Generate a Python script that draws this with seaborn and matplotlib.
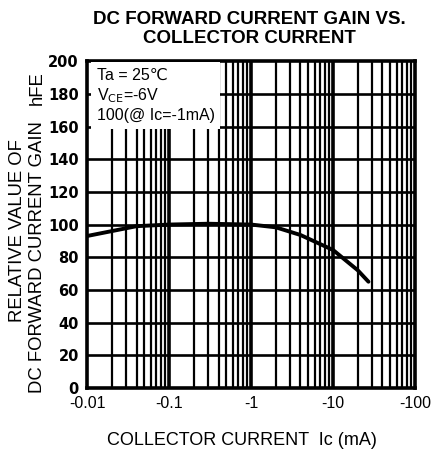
import numpy as np
import pandas as pd
import matplotlib
matplotlib.use("Agg")
import matplotlib.pyplot as plt
import seaborn as sns

# values (Ic in mA, magnitude; hFE relative)
ic_ma = [0.01, 0.02, 0.04, 0.1, 0.3, 1, 2, 4, 10, 20, 27]
hfe = [93, 96, 99, 100, 100.5, 100, 98.3, 93.6, 84.4, 72, 65]
x_ticks = [0.01, 0.1, 1, 10, 100]
x_tick_labels = ["-0.01", "-0.1", "-1", "-10", "-100"]
y_ticks = [0, 20, 40, 60, 80, 100, 120, 140, 160, 180, 200]

sns.set_style("white")
plt.rcParams["font.family"] = ["Liberation Sans", "DejaVu Sans"]
plt.rcParams["text.color"] = "black"
plt.rcParams["axes.labelcolor"] = "black"
plt.rcParams["xtick.color"] = "black"
plt.rcParams["ytick.color"] = "black"

df = pd.DataFrame({"ic": ic_ma, "hfe": hfe})

fig, ax = plt.subplots(figsize=(4.36, 4.5), dpi=100)
fig.subplots_adjust(left=0.2, right=0.952, top=0.864, bottom=0.138)

ax.set_xscale("log")
ax.set_xlim(0.01, 100)
ax.set_ylim(0, 200)

# grid: heavy lines like the datasheet paper
for dec in [0.01, 0.1, 1, 10]:
    for m in range(2, 10):
        ax.axvline(dec * m, color="black", lw=1.6, zorder=1)
for dec in [0.1, 1, 10]:
    ax.axvline(dec, color="black", lw=2.6, zorder=1)
for y in y_ticks[1:-1]:
    ax.axhline(y, color="black", lw=1.9, zorder=1)

sns.lineplot(data=df, x="ic", y="hfe", ax=ax, color="black", lw=2.8, zorder=3)

ax.set_xticks(x_ticks)
ax.set_xticklabels(x_tick_labels, fontsize=11.5)
ax.xaxis.set_minor_locator(matplotlib.ticker.NullLocator())
ax.set_yticks(y_ticks)
ax.set_yticklabels([str(v) for v in y_ticks], fontsize=10.5, fontweight="bold",
                   family="DejaVu Sans")
ax.tick_params(axis="y", direction="out", length=3, width=1.2, pad=3)
ax.tick_params(axis="x", length=0, pad=6)
for s in ax.spines.values():
    s.set_linewidth(2.6)
    s.set_color("black")

ax.set_xlabel("")
ax.set_ylabel("")

ax.text(0.013, 196, "Ta = 25\u2103\nV$_{\\rm CE}$=-6V\n100(@ Ic=-1mA)", fontsize=11.5,
        va="top", ha="left", linespacing=1.25, zorder=5,
        bbox=dict(facecolor="white", edgecolor="none", pad=4))

fig.text(0.573, 0.975, "DC FORWARD CURRENT GAIN VS.\nCOLLECTOR CURRENT", ha="center",
         va="top", fontsize=13.5, fontweight="bold", linespacing=1.1)
fig.text(0.556, 0.022, "COLLECTOR CURRENT  Ic (mA)", ha="center", va="center", fontsize=13)
fig.text(0.039, 0.487, "RELATIVE VALUE OF", rotation=90, ha="center", va="center", fontsize=13.3)
fig.text(0.085, 0.429, "DC FORWARD CURRENT GAIN", rotation=90, ha="center", va="center",
         fontsize=13.3)
fig.text(0.085, 0.804, "hFE", rotation=90, ha="center", va="center", fontsize=13.3)

fig.savefig("out.png", dpi=100, facecolor="white")
